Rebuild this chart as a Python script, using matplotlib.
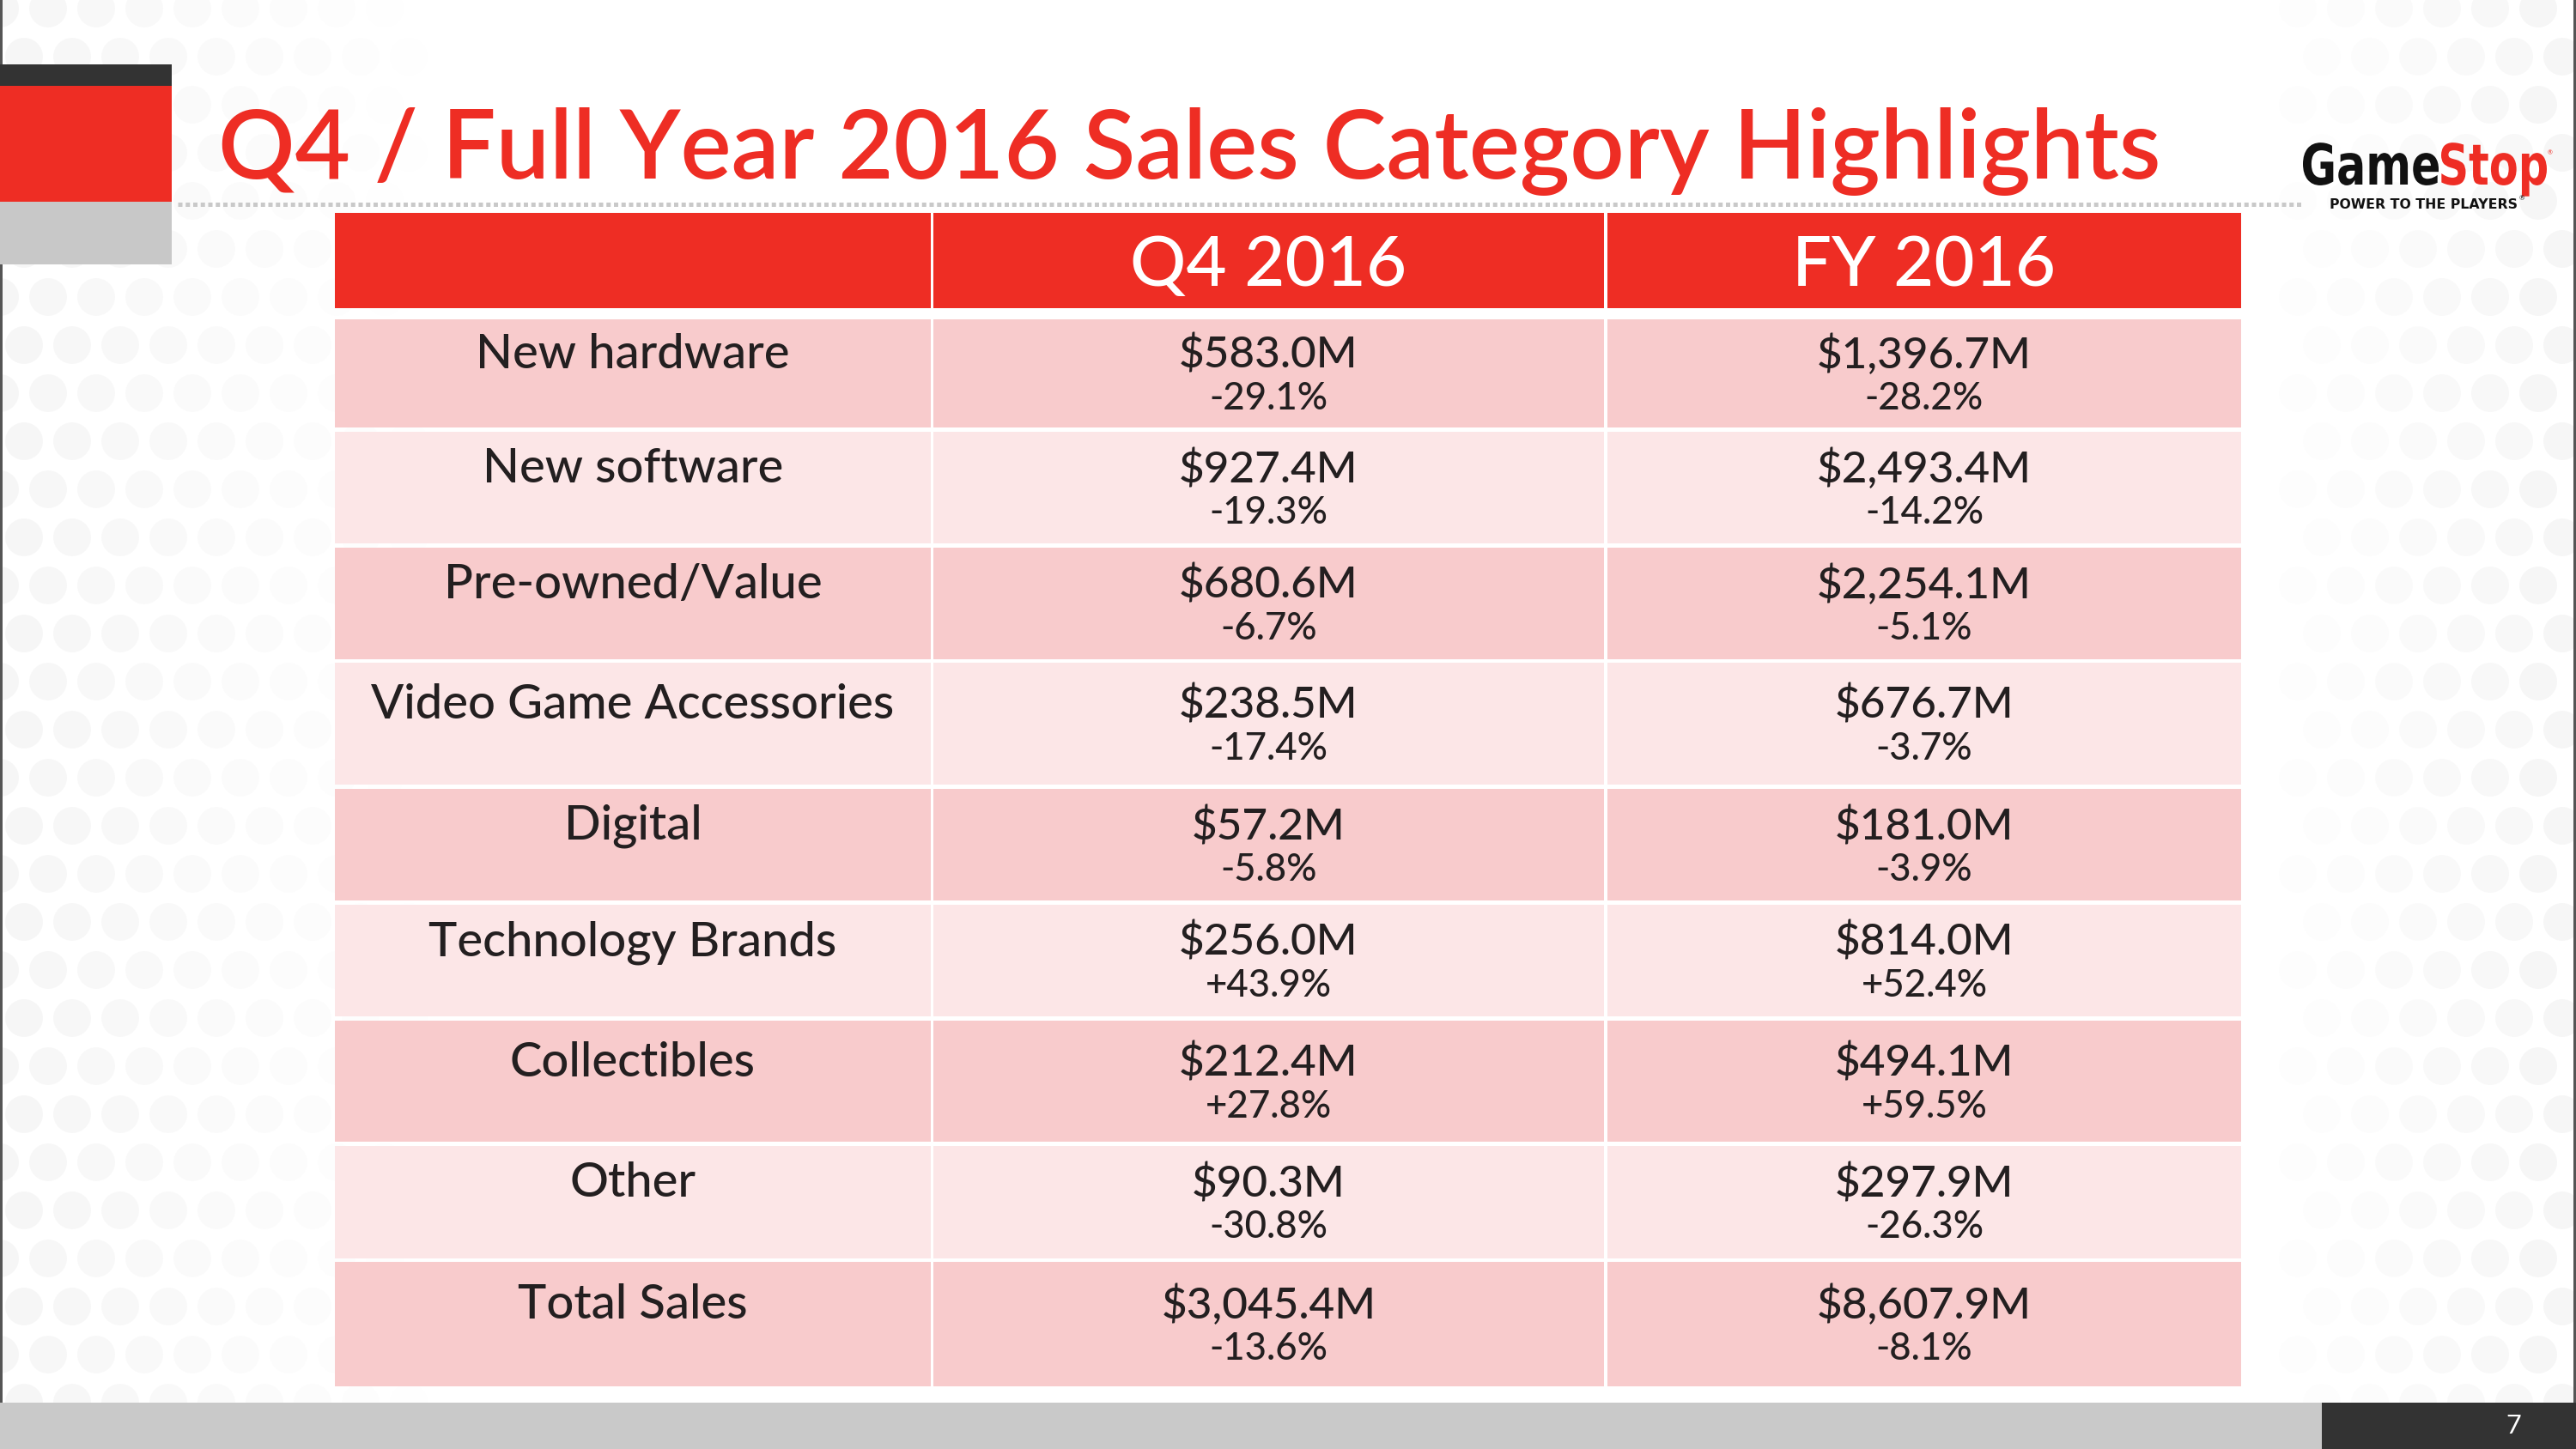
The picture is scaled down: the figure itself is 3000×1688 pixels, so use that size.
import numpy as np
import matplotlib.pyplot as plt
from matplotlib.patches import Rectangle, Circle, PathPatch
from matplotlib.textpath import TextPath
from matplotlib.font_manager import FontProperties
from matplotlib.transforms import Affine2D

plt.rcParams['font.family'] = ['Lato', 'DejaVu Sans']

# table data
categories = ["New hardware", "New software", "Pre-owned/Value", "Video Game Accessories",
              "Digital", "Technology Brands", "Collectibles", "Other", "Total Sales"]
q4_sales = [583.0, 927.4, 680.6, 238.5, 57.2, 256.0, 212.4, 90.3, 3045.4]
q4_change = [-29.1, -19.3, -6.7, -17.4, -5.8, 43.9, 27.8, -30.8, -13.6]
fy_sales = [1396.7, 2493.4, 2254.1, 676.7, 181.0, 814.0, 494.1, 297.9, 8607.9]
fy_change = [-28.2, -14.2, -5.1, -3.7, -3.9, 52.4, 59.5, -26.3, -8.1]
headers = ["", "Q4 2016", "FY 2016"]
title = "Q4 / Full Year 2016 Sales Category Highlights"

RED = "#EE2D24"
DARK = "#333333"
INK = "#231F20"
PINK_D = "#F8CBCC"
PINK_L = "#FCE6E7"

W, H = 3000, 1688
fig = plt.figure(figsize=(30, 16.88), dpi=100)
ax = fig.add_axes([0, 0, 1, 1])
ax.set_xlim(0, W)
ax.set_ylim(H, 0)
ax.axis('off')
renderer = fig.canvas.get_renderer()


def size_for(s, width, **kw):
    t = ax.text(0, 0, s, fontsize=50, **kw)
    w = t.get_window_extent(renderer).width
    t.remove()
    return 50 * width / w


def squeezed_word(s, x0, x1, base, cap, color, prop):
    # draw a word as a path stretched to fit x0..x1 with given cap height
    tp = TextPath((0, 0), s, size=1, prop=prop)
    ext = tp.get_extents()
    cap_h = TextPath((0, 0), "H", size=1, prop=prop).get_extents().y1
    sx = (x1 - x0) / ext.width
    sy = cap / cap_h
    tr = Affine2D().translate(-ext.x0, 0).scale(sx, -sy).translate(x0, base)
    ax.add_patch(PathPatch(tr.transform_path(tp), color=color, lw=0))


# faint background texture on both sides
for k, yy in enumerate(np.arange(10, 1640, 56)):
    off = 28 if k % 2 else 0
    for xx in np.arange(0, 480, 56):
        a = 0.35 * (1 - xx / 480)
        ax.add_patch(Circle((xx + off, yy), 22, color="#E8E8E8", alpha=a, lw=0, zorder=0))
    for xx in np.arange(2620, 3010, 56):
        a = 0.4 * (xx - 2620) / 380
        ax.add_patch(Circle((xx + off, yy), 22, color="#E8E8E8", alpha=a, lw=0, zorder=0))

# thin edge lines
ax.add_patch(Rectangle((0, 0), 3, 1634, color="#555555", lw=0))
ax.add_patch(Rectangle((2997, 0), 3, 1634, color="#555555", lw=0))

# left colour block
ax.add_patch(Rectangle((0, 75), 200, 25, color=DARK, lw=0))
ax.add_patch(Rectangle((0, 100), 200, 135, color=RED, lw=0))
ax.add_patch(Rectangle((0, 235), 200, 73, color="#C8C8C8", lw=0))

# title
fs = size_for(title, 2267, weight='semibold')
ax.text(254, 208, title, fontsize=fs, color=RED, ha='left', va='baseline', weight='semibold')

# dotted rule
ax.plot([207, 2682], [238, 238], color="#C9C9C9", lw=3.6,
        linestyle=(0, (1.0, 0.75)), solid_capstyle='butt', dash_capstyle='butt')

# logo
logo_prop = FontProperties(family='DejaVu Sans', weight='bold')
squeezed_word("Game", 2682, 2840, 215, 48, "#111111", logo_prop)
squeezed_word("Stop", 2843, 2966, 215, 48, RED, logo_prop)
ax.text(2967, 180, "®", fontsize=5, color=RED, ha='left', va='baseline')
pfs = size_for("POWER TO THE PLAYERS", 218, family=['DejaVu Sans'], weight='bold')
ax.text(2713, 243, "POWER TO THE PLAYERS", fontsize=pfs, color="#111111", ha='left',
        va='baseline', family=['DejaVu Sans'], weight='bold')
ax.text(2934, 233, "®", fontsize=pfs * 0.5, color="#111111", ha='left', va='baseline')

# table geometry
col_l = [390, 1087, 1872]
col_r = [1084, 1868, 2610]
head_top, head_bot = 248, 359
row_top = [372, 503, 638, 772, 919, 1054, 1189, 1335, 1470]
row_bot = [498, 633, 768, 914, 1049, 1184, 1330, 1466, 1615]

hfs = size_for("FY 2016", 307, weight='medium')
for j in range(3):
    ax.add_patch(Rectangle((col_l[j], head_top), col_r[j] - col_l[j], head_bot - head_top,
                           color=RED, lw=0))
    ax.text((col_l[j] + col_r[j]) / 2, 333, headers[j], fontsize=hfs, color="white",
            ha='center', va='baseline', weight='medium')

lab_fs = size_for("Video Game Accessories", 609, weight='medium')
val_fs = size_for("$1,396.7M", 250, weight='medium')
pct_fs = size_for("-28.2%", 138, weight='medium')

columns = [(q4_sales, q4_change), (fy_sales, fy_change)]
for i, cat in enumerate(categories):
    shade = PINK_D if i % 2 == 0 else PINK_L
    mid = (row_top[i] + row_bot[i]) / 2
    for j in range(3):
        ax.add_patch(Rectangle((col_l[j], row_top[i]), col_r[j] - col_l[j],
                               row_bot[i] - row_top[i], color=shade, lw=0))
    ax.text((col_l[0] + col_r[0]) / 2, mid - 6, cat, fontsize=lab_fs, color=INK,
            ha='center', va='baseline', weight='medium')
    for j, (vals, chg) in enumerate(columns, start=1):
        cx = (col_l[j] + col_r[j]) / 2
        ax.text(cx, mid - 6, f"${vals[i]:,.1f}M", fontsize=val_fs, color=INK,
                ha='center', va='baseline', weight='medium')
        ax.text(cx, mid + 42, f"{chg[i]:+.1f}%", fontsize=pct_fs, color=INK,
                ha='center', va='baseline', weight='medium')

# footer
ax.add_patch(Rectangle((0, 1634), 2704, 54, color="#C9C9C9", lw=0))
ax.add_patch(Rectangle((2704, 1634), 296, 54, color=DARK, lw=0))
ax.text(2927, 1661, "7", fontsize=22, color="white", ha='center', va='center')

fig.savefig("out.png", dpi=100)
